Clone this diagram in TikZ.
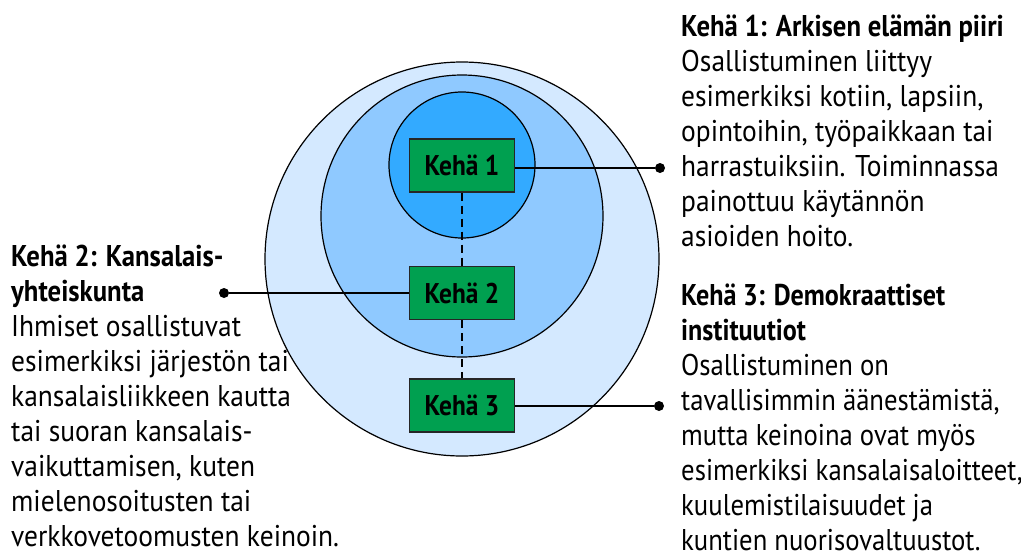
\documentclass[tikz,border=0pt]{standalone}
\usepackage{fontspec}
\setmainfont{PT Sans}[FakeStretch=0.915, BoldFeatures={FakeStretch=0.89}]
\newfontfamily\narrowsans{PT Sans}[FakeStretch=0.89, BoldFeatures={FakeStretch=0.87}]
\definecolor{ringA}{RGB}{212,233,255}
\definecolor{ringB}{RGB}{143,201,255}
\definecolor{ringC}{RGB}{51,170,255}
\definecolor{kgreen}{RGB}{0,160,80}
\begin{document}
\begin{tikzpicture}[x=1pt,y=-1pt,
  ring/.style={draw=black, line width=1.2pt},
  kbox/.style={draw=black!85, fill=kgreen, line width=1.2pt, minimum width=105pt, minimum height=53pt, inner sep=0pt, font=\bfseries\fontsize{28.5}{32}\selectfont},
  dotnode/.style={circle, fill=black, inner sep=0pt, minimum size=10pt},
  lead/.style={line width=1.2pt},
  dashlink/.style={line width=1.2pt, dash pattern=on 8pt off 5pt},
  txt/.style={anchor=base west, inner sep=0pt, align=left, font=\fontsize{30}{35}\selectfont}]
\useasboundingbox (0,0) rectangle (1021,555);
\fill[white] (0,0) rectangle (1021,555);
\draw[ring, fill=ringA] (462,259) circle[radius=197pt];
\draw[ring, fill=ringB] (462,216) circle[radius=141pt];
\draw[ring, fill=ringC] (462,165) circle[radius=73pt];
\node[kbox] (k1) at (462,165.5) {Kehä 1};
\node[kbox] (k2) at (462,293) {Kehä 2};
\node[kbox] (k3) at (462,405.5) {Kehä 3};
\draw[dashlink] (k1.south) -- (k2.north);
\draw[dashlink] (k2.south) -- (k3.north);
\node[dotnode] (d1) at (660,168) {};
\node[dotnode] (d2) at (224,293) {};
\node[dotnode] (d3) at (659,406) {};
\draw[lead] (k1.east |- d1) -- (d1);
\draw[lead] (k2.west |- d2) -- (d2);
\draw[lead] (k3.east |- d3) -- (d3);
\node[txt] (t1) at (681,246) {\textbf{Kehä 1: Arkisen elämän piiri}\\
Osallistuminen liittyy\\
esimerkiksi kotiin, lapsiin,\\
opintoihin, työpaikkaan tai\\
harrastuiksiin. Toiminnassa\\
painottuu käytännön\\
asioiden hoito.};
\node[txt] (t2) at (11,546) {\textbf{Kehä 2: Kansalais-}\\
\textbf{yhteiskunta}\\
Ihmiset osallistuvat\\
esimerkiksi järjestön tai\\
kansalaisliikkeen kautta\\
tai suoran kansalais-\\
vaikuttamisen, kuten\\
mielenosoitusten tai\\
verkkovetoomusten keinoin.};
\node[txt, font=\narrowsans\fontsize{30}{35}\selectfont] (t3) at (681,550) {\textbf{Kehä 3: Demokraattiset}\\
\textbf{instituutiot}\\
Osallistuminen on\\
tavallisimmin äänestämistä,\\
mutta keinoina ovat myös\\
esimerkiksi kansalaisaloitteet,\\
kuulemistilaisuudet ja\\
kuntien nuorisovaltuustot.};
\end{tikzpicture}
\end{document}
